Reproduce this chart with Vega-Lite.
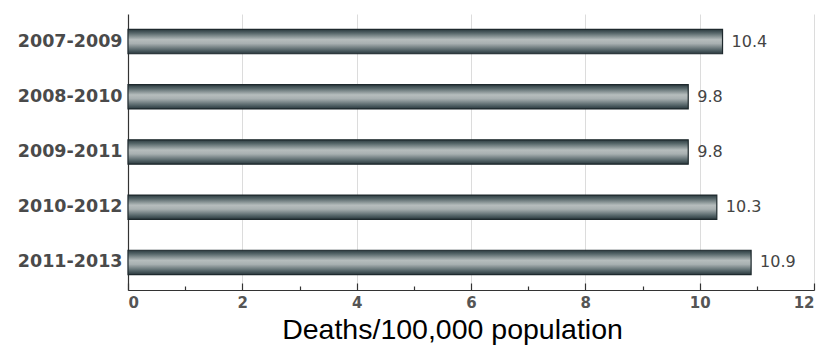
{
  "$schema": "https://vega.github.io/schema/vega-lite/v6.json",
  "width": 686,
  "height": 276,
  "autosize": {"type": "none"},
  "padding": {"left": 128, "top": 14, "right": 11, "bottom": 55},
  "background": "white",
  "data": {"values": [
    {"period": "2007-2009", "rate": 10.4},
    {"period": "2008-2010", "rate": 9.8},
    {"period": "2009-2011", "rate": 9.8},
    {"period": "2010-2012", "rate": 10.3},
    {"period": "2011-2013", "rate": 10.9}
  ]},
  "config": {
    "view": {"stroke": null},
    "font": "DejaVu Sans"
  },
  "encoding": {
    "y": {
      "field": "period", "type": "nominal", "sort": null,
      "scale": {"paddingInner": 0.56, "paddingOuter": 0.28},
      "axis": {
        "title": null, "ticks": false, "domainColor": "#333", "domainWidth": 1.2,
        "labelFontSize": 17.5, "labelFontWeight": "bold", "labelColor": "#4a4a4a", "labelPadding": 6,
        "labelFont": "DejaVu Sans"
      }
    },
    "x": {
      "field": "rate", "type": "quantitative",
      "scale": {"domain": [0, 12], "nice": false},
      "axis": {
        "values": [0,1,2,3,4,5,6,7,8,9,10,11,12],
        "labelExpr": "datum.value % 2 === 0 ? datum.label : ''",
        "title": "Deaths/100,000 population",
        "titleFont": "Liberation Sans",
        "titleFontSize": 28.5, "titleFontWeight": "normal", "titleColor": "#000",
        "titleX": 324, "titleY": 48, "titleAlign": "center", "titleBaseline": "alphabetic",
        "labelFont": "DejaVu Sans", "labelFontWeight": "bold",
        "labelFontSize": 15, "labelColor": "#555", "labelPadding": 12,
        "domainColor": "#333", "domainWidth": 1.2,
        "tickColor": "#333", "tickWidth": 1.2,
        "tickSize": {"condition": {"test": "datum.value % 2 === 0", "value": -7}, "value": -4},
        "grid": true, "gridColor": "#dcdcdc",
        "gridOpacity": {"condition": {"test": "datum.value % 2 === 0 && datum.value > 0", "value": 1}, "value": 0}
      }
    }
  },
  "layer": [
    {
      "mark": {
        "type": "bar",
        "stroke": "#1e292d",
        "strokeWidth": 1.2,
        "color": {
          "gradient": "linear", "x1": 0, "y1": 0, "x2": 0, "y2": 1,
          "stops": [
            {"offset": 0, "color": "#2c3b40"},
            {"offset": 0.15, "color": "#566669"},
            {"offset": 0.42, "color": "#b6bdbd"},
            {"offset": 0.58, "color": "#a8b0b1"},
            {"offset": 0.85, "color": "#536367"},
            {"offset": 1, "color": "#2a383d"}
          ]
        }
      }
    },
    {
      "mark": {"type": "text", "align": "left", "dx": 9, "fontSize": 16, "color": "#444", "font": "DejaVu Sans"},
      "encoding": {"text": {"field": "rate", "type": "quantitative", "format": ".1f"}}
    }
  ]
}
